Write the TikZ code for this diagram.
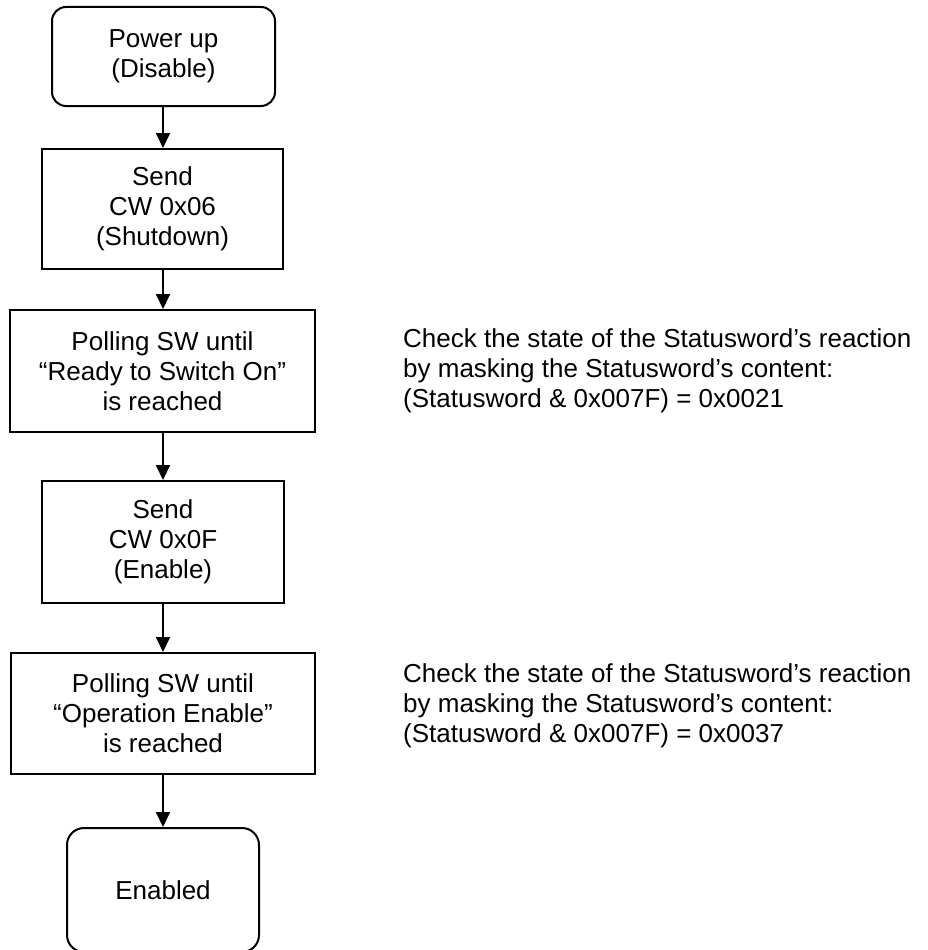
\documentclass[tikz,border=0pt]{standalone}
\usepackage{fontspec}
\setmainfont{Liberation Sans}
\usetikzlibrary{arrows.meta}
\begin{document}
\begin{tikzpicture}[x=1pt,y=-1pt,
  every node/.style={font=\fontsize{26}{30}\selectfont, align=center, inner sep=0pt},
  stepbox/.style={draw, line width=2pt, minimum width=#1},
  roundbox/.style={draw, line width=2pt, rounded corners=14pt},
  conn/.style={line width=2pt, -{Triangle[width=14pt,length=15pt]}},
  note/.style={anchor=west, align=left}]
\useasboundingbox (0,0) rectangle (928,950);
\clip (0,0) rectangle (928,950);
\node[roundbox, minimum width=223pt, minimum height=99pt] (pu) at (163.5,56.5) {Power up\\(Disable)};
\node[stepbox=241pt, minimum height=120pt] (s1) at (162.5,209) {Send\\CW 0x06\\(Shutdown)};
\node[stepbox=305pt, minimum height=122pt] (p1) at (162.5,371) {Polling SW until\\“Ready to Switch On”\\is reached};
\node[stepbox=242pt, minimum height=122pt] (s2) at (163,542) {Send\\CW 0x0F\\(Enable)};
\node[stepbox=304pt, minimum height=121pt] (p2) at (163,713.5) {Polling SW until\\“Operation Enable”\\is reached};
\node[roundbox, rounded corners=17pt, minimum width=192pt, minimum height=124pt] (en) at (163,890) {Enabled};
\node[note] (n1) at (403,371) {Check the state of the Statusword’s reaction\\by masking the Statusword’s content:\\(Statusword \& 0x007F) = 0x0021};
\node[note] (n2) at (403,706) {Check the state of the Statusword’s reaction\\by masking the Statusword’s content:\\(Statusword \& 0x007F) = 0x0037};
\draw[conn] (pu.south -| 163,0) -- (s1.north -| 163,0);
\draw[conn] (s1.south -| 163,0) -- (p1.north -| 163,0);
\draw[conn] (p1.south -| 163,0) -- (s2.north -| 163,0);
\draw[conn] (s2.south -| 163,0) -- (p2.north -| 163,0);
\draw[conn] (p2.south -| 163,0) -- (en.north -| 163,0);
\end{tikzpicture}
\end{document}
